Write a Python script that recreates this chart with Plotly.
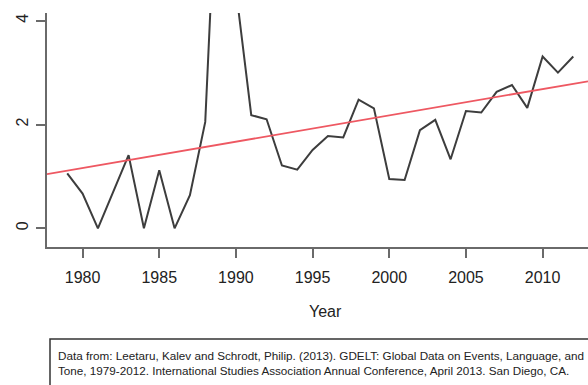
import numpy as np
import plotly.graph_objects as go

years = list(range(1979, 2013))
values = [1.06, 0.67, 0.00, 0.70, 1.41, 0.00, 1.12, 0.00, 0.64, 2.05,
          8.50, 4.60, 2.18, 2.10, 1.21, 1.13, 1.51, 1.78, 1.75, 2.48,
          2.31, 0.95, 0.93, 1.89, 2.09, 1.33, 2.26, 2.23, 2.63, 2.76,
          2.32, 3.31, 3.00, 3.31]
x_ticks = [1980, 1985, 1990, 1995, 2000, 2005, 2010]
y_ticks = [0, 2, 4]
x_title = "Year"
caption = ("Data from: Leetaru, Kalev and Schrodt, Philip. (2013). GDELT: Global Data on Events, Language, and<br>"
           "Tone, 1979-2012. International Studies Association Annual Conference, April 2013. San Diego, CA.")

x_range = [1977.68, 2012.96]
y_range = [-0.36, 4.148]

slope, intercept = np.polyfit(years, values, 1)
trend_x = x_range
trend_y = [intercept + slope * x for x in trend_x]

W, H = 588, 385
ml, mr, mt, mb = 47, 0, 13, 138
pw, ph = W - ml - mr, H - mt - mb

def px_x(px):
    return (px - ml) / pw

def px_y(py):
    return (H - mb - py) / ph

fig = go.Figure()
fig.add_trace(go.Scatter(x=years, y=values, mode="lines",
                         line=dict(color="#3d3d3d", width=2), showlegend=False))
fig.add_trace(go.Scatter(x=trend_x, y=trend_y, mode="lines",
                         line=dict(color="#ee5862", width=1.8), showlegend=False))

axis_color = "#6a6a6a"
font_family = "Liberation Sans, Arial, sans-serif"
fig.update_layout(
    width=W, height=H,
    margin=dict(l=ml, r=mr, t=mt, b=mb, pad=0),
    paper_bgcolor="white", plot_bgcolor="white",
    font=dict(family=font_family, size=16, color="#222222"),
    xaxis=dict(range=x_range, tickvals=x_ticks, ticks="outside", ticklen=9,
               tickwidth=2, tickcolor=axis_color, showline=True, linecolor=axis_color,
               linewidth=2, showgrid=False, zeroline=False, ticklabelstandoff=6,
               automargin=False, tickfont=dict(size=16, color="#222222")),
    yaxis=dict(range=y_range, tickvals=y_ticks, ticks="outside", ticklen=9,
               tickwidth=2, tickcolor=axis_color, showline=True, linecolor=axis_color,
               linewidth=2, showgrid=False, zeroline=False, tickangle=-90,
               automargin=False, ticklabelstandoff=2,
               tickfont=dict(size=16, color="#222222")),
)

fig.add_annotation(text=x_title, xref="paper", yref="paper",
                   x=px_x(325.5), y=px_y(311), xanchor="center", yanchor="middle",
                   showarrow=False, font=dict(size=16, color="#222222"))

fig.add_shape(type="rect", xref="paper", yref="paper",
              x0=px_x(50), x1=px_x(640), y0=px_y(339), y1=px_y(420),
              line=dict(color="#333333", width=1.5), fillcolor="rgba(0,0,0,0)")

fig.add_annotation(text=caption, xref="paper", yref="paper",
                   x=px_x(56), y=px_y(347), xanchor="left", yanchor="top",
                   align="left", showarrow=False,
                   font=dict(size=11.7, color="#222222", family=font_family))

fig.write_html("out.html", config={"displayModeBar": False},
               post_script="document.body.style.margin='0';document.body.style.overflow='hidden';")
